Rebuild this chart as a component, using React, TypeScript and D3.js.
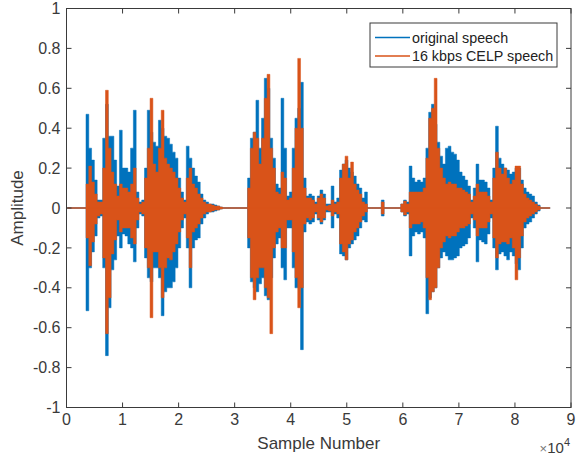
import React from "react";
import * as d3 from "d3";

// envelope of the two waveforms, one value per bin of samples
const binWidth = 497;
const signalLength = 86300;

const blueTop = [
  0, 0, 0, 0, 0, 0, 0, 0.47, 0.3, 0.24, 0.14, 0.04, 0.04, 0.35, 0.52, 0.36, 0.36, 0.24, 0.11, 0.39,
  0.2, 0.2, 0.18, 0.3, 0.49, 0.08, 0.03, 0.04, 0.2, 0.49, 0.38, 0.33, 0.31, 0.44, 0.4, 0.36, 0.35, 0.32, 0.28, 0.25,
  0.15, 0.08, 0.04, 0.31, 0.25, 0.2, 0.16, 0.13, 0.07, 0.04, 0.03, 0.02, 0.02, 0.015, 0.01, 0.005, 0, 0, 0, 0,
  0, 0, 0, 0, 0, 0.15, 0.35, 0.38, 0.54, 0.3, 0.45, 0.65, 0.6, 0.35, 0.25, 0.12, 0.1, 0.55, 0.3, 0.06,
  0.08, 0.3, 0.45, 0.5, 0.63, 0.15, 0.06, 0.07, 0.06, 0.03, 0.06, 0.09, 0.07, 0.02, 0.02, 0.11, 0.03, 0.05, 0.19, 0.22,
  0.24, 0.2, 0.18, 0.16, 0.12, 0.1, 0.05, 0.08, 0, 0, 0, 0, 0, 0.04, 0, 0, 0, 0, 0, 0,
  0.02, 0.04, 0.03, 0.21, 0.15, 0.13, 0.14, 0.13, 0.15, 0.3, 0.48, 0.52, 0.42, 0.33, 0.26, 0.22, 0.3, 0.31, 0.28, 0.27,
  0.24, 0.18, 0.16, 0.14, 0.11, 0.04, 0.1, 0.22, 0.14, 0.14, 0.13, 0.1, 0.04, 0.2, 0.41, 0.25, 0.22, 0.2, 0.19, 0.17,
  0.18, 0.2, 0.2, 0.14, 0.1, 0.08, 0.07, 0.06, 0.03, 0.015, 0, 0, 0, 0,
];
const blueBottom = [
  0, 0, 0, 0, 0, 0, 0, -0.515, -0.3, -0.22, -0.14, -0.05, -0.04, -0.3, -0.74, -0.5, -0.31, -0.26, -0.14, -0.2,
  -0.13, -0.14, -0.18, -0.2, -0.27, -0.1, -0.03, -0.04, -0.25, -0.35, -0.37, -0.3, -0.3, -0.35, -0.54, -0.42, -0.4, -0.4, -0.37, -0.3,
  -0.2, -0.1, -0.05, -0.2, -0.4, -0.2, -0.16, -0.15, -0.08, -0.05, -0.03, -0.02, -0.02, -0.015, -0.01, -0.005, 0, 0, 0, 0,
  0, 0, 0, 0, 0, -0.2, -0.37, -0.4, -0.42, -0.38, -0.35, -0.44, -0.46, -0.35, -0.25, -0.18, -0.15, -0.3, -0.36, -0.1,
  -0.1, -0.3, -0.4, -0.4, -0.71, -0.12, -0.07, -0.08, -0.07, -0.03, -0.06, -0.08, -0.06, -0.02, -0.02, -0.1, -0.03, -0.05, -0.23, -0.24,
  -0.26, -0.2, -0.18, -0.16, -0.14, -0.1, -0.06, -0.07, 0, 0, 0, 0, 0, -0.04, 0, 0, 0, 0, 0, 0,
  -0.02, -0.04, -0.03, -0.24, -0.14, -0.12, -0.13, -0.12, -0.15, -0.53, -0.45, -0.42, -0.4, -0.3, -0.25, -0.22, -0.24, -0.26, -0.26, -0.25,
  -0.24, -0.2, -0.19, -0.18, -0.15, -0.05, -0.1, -0.27, -0.16, -0.17, -0.18, -0.13, -0.05, -0.2, -0.31, -0.23, -0.22, -0.24, -0.26, -0.22,
  -0.24, -0.28, -0.31, -0.2, -0.1, -0.08, -0.07, -0.05, -0.03, -0.015, 0, 0, 0, 0,
];
const orangeTop = [
  0, 0, 0, 0, 0, 0, 0, 0.12, 0.21, 0.13, 0.07, 0.03, 0.03, 0.2, 0.59, 0.3, 0.18, 0.12, 0.06, 0.12,
  0.1, 0.1, 0.08, 0.12, 0.2, 0.05, 0.02, 0.03, 0.15, 0.3, 0.55, 0.22, 0.18, 0.3, 0.49, 0.25, 0.22, 0.2, 0.18, 0.15,
  0.1, 0.05, 0.03, 0.15, 0.2, 0.12, 0.1, 0.07, 0.05, 0.03, 0.02, 0.02, 0.015, 0.01, 0.01, 0.005, 0, 0, 0, 0,
  0, 0, 0, 0, 0, 0.1, 0.3, 0.38, 0.35, 0.22, 0.35, 0.55, 0.67, 0.3, 0.2, 0.08, 0.07, 0.18, 0.15, 0.04,
  0.05, 0.2, 0.4, 0.75, 0.4, 0.1, 0.05, 0.05, 0.04, 0.02, 0.05, 0.07, 0.05, 0.01, 0.015, 0.04, 0.02, 0.03, 0.15, 0.22,
  0.26, 0.15, 0.23, 0.12, 0.09, 0.07, 0.03, 0.02, 0, 0, 0, 0, 0, 0.03, 0, 0, 0, 0, 0, 0,
  0.02, 0.035, 0.02, 0.08, 0.08, 0.08, 0.08, 0.08, 0.1, 0.25, 0.45, 0.5, 0.65, 0.3, 0.2, 0.15, 0.12, 0.13, 0.12, 0.12,
  0.1, 0.1, 0.09, 0.08, 0.07, 0.03, 0.06, 0.12, 0.08, 0.08, 0.08, 0.06, 0.03, 0.15, 0.28, 0.2, 0.17, 0.2, 0.15, 0.12,
  0.14, 0.21, 0.21, 0.12, 0.07, 0.05, 0.04, 0.03, 0.02, 0.01, 0, 0, 0, 0,
];
const orangeBottom = [
  0, 0, 0, 0, 0, 0, 0, -0.15, -0.29, -0.17, -0.08, -0.04, -0.03, -0.25, -0.63, -0.45, -0.23, -0.16, -0.06, -0.12,
  -0.1, -0.1, -0.1, -0.15, -0.18, -0.06, -0.02, -0.03, -0.2, -0.3, -0.55, -0.22, -0.22, -0.3, -0.45, -0.3, -0.25, -0.26, -0.22, -0.18,
  -0.12, -0.06, -0.03, -0.15, -0.3, -0.12, -0.1, -0.08, -0.05, -0.03, -0.02, -0.02, -0.015, -0.01, -0.01, -0.005, 0, 0, 0, 0,
  0, 0, 0, 0, 0, -0.15, -0.35, -0.46, -0.35, -0.3, -0.3, -0.4, -0.45, -0.63, -0.2, -0.12, -0.1, -0.2, -0.2, -0.06,
  -0.06, -0.22, -0.35, -0.5, -0.4, -0.08, -0.05, -0.06, -0.05, -0.02, -0.05, -0.07, -0.05, -0.01, -0.015, -0.04, -0.02, -0.03, -0.18, -0.22,
  -0.26, -0.18, -0.16, -0.12, -0.1, -0.07, -0.04, -0.02, 0, 0, 0, 0, 0, -0.03, 0, 0, 0, 0, 0, 0,
  -0.02, -0.035, -0.02, -0.1, -0.08, -0.08, -0.08, -0.07, -0.1, -0.35, -0.46, -0.42, -0.4, -0.3, -0.2, -0.17, -0.14, -0.15, -0.14, -0.14,
  -0.12, -0.1, -0.1, -0.09, -0.08, -0.03, -0.06, -0.14, -0.1, -0.1, -0.1, -0.07, -0.03, -0.15, -0.25, -0.18, -0.17, -0.17, -0.18, -0.15,
  -0.2, -0.36, -0.25, -0.14, -0.07, -0.05, -0.04, -0.03, -0.02, -0.01, 0, 0, 0, 0,
];

const xTicks = [0, 1, 2, 3, 4, 5, 6, 7, 8, 9];
const yTicks = [-1, -0.8, -0.6, -0.4, -0.2, 0, 0.2, 0.4, 0.6, 0.8, 1];
const legendLabels = ["original speech", "16 kbps CELP speech"];

const BLUE = "#0072BD";
const ORANGE = "#D95319";
const AXIS = "#3a3a3a";
const FONT = "'Liberation Sans', Arial, sans-serif";

const width = 579;
const height = 458;
const left = 66.5, right = 571, top = 8.5, bottom = 407.5;

const x = d3.scaleLinear().domain([0, 90000]).range([left, right]);
const y = d3.scaleLinear().domain([-1, 1]).range([bottom, top]);

function envelope(tops: number[], bottoms: number[]) {
  return tops.map((t, i) => ({ n: (i + 0.5) * binWidth, t, b: bottoms[i] }));
}

const area = d3
  .area<{ n: number; t: number; b: number }>()
  .x(d => x(d.n))
  .y0(d => y(d.b))
  .y1(d => y(d.t))
  .curve(d3.curveStep);

export default function App() {
  const blue = envelope(blueTop, blueBottom);
  const orange = envelope(orangeTop, orangeBottom);
  const tickLen = 5;

  return (
    <svg
      width={width}
      height={height}
      style={{ position: "absolute", left: 0, top: 0, background: "#fff" }}
      fontFamily={FONT}
    >
      <rect width={width} height={height} fill="#fff" />

      <path d={area(blue) ?? ""} fill={BLUE} stroke={BLUE} strokeWidth={0.5} />
      <line x1={x(0)} x2={x(signalLength)} y1={y(0)} y2={y(0)} stroke={BLUE} strokeWidth={1} />
      <path d={area(orange) ?? ""} fill={ORANGE} stroke={ORANGE} strokeWidth={0.5} />
      <line x1={x(0)} x2={x(signalLength)} y1={y(0)} y2={y(0)} stroke={ORANGE} strokeWidth={1} />

      {/* box */}
      <rect x={left} y={top} width={right - left} height={bottom - top} fill="none" stroke={AXIS} strokeWidth={1} />

      {xTicks.map(t => (
        <g key={"x" + t}>
          <line x1={x(t * 1e4)} x2={x(t * 1e4)} y1={bottom} y2={bottom - tickLen} stroke={AXIS} />
          <line x1={x(t * 1e4)} x2={x(t * 1e4)} y1={top} y2={top + tickLen} stroke={AXIS} />
          <text x={x(t * 1e4)} y={bottom + 17.5} textAnchor="middle" fontSize={16} fill={AXIS}>
            {t}
          </text>
        </g>
      ))}

      {yTicks.map(t => (
        <g key={"y" + t}>
          <line x1={left} x2={left + tickLen} y1={y(t)} y2={y(t)} stroke={AXIS} />
          <line x1={right} x2={right - tickLen} y1={y(t)} y2={y(t)} stroke={AXIS} />
          <text x={left - 6} y={y(t)} dy="0.35em" textAnchor="end" fontSize={16} fill={AXIS}>
            {t === 0 ? "0" : String(+t.toFixed(1))}
          </text>
        </g>
      ))}

      <text x={(left + right) / 2} y={449} textAnchor="middle" fontSize={17} fill={AXIS}>
        Sample Number
      </text>
      <text
        transform={`translate(23,${(top + bottom) / 2}) rotate(-90)`}
        textAnchor="middle"
        fontSize={17}
        fill={AXIS}
      >
        Amplitude
      </text>

      <text x={right - 1} y={453} textAnchor="end" fontSize={15} fill={AXIS}>
        <tspan fill="#777" fontSize={13}>×</tspan>
        <tspan>10</tspan>
        <tspan dy={-7} fontSize={11}>4</tspan>
      </text>

      {/* legend */}
      <rect x={370} y={23} width={187} height={44} fill="#fff" stroke={AXIS} strokeWidth={1} />
      {legendLabels.map((label, i) => (
        <g key={label}>
          <line x1={375} x2={410} y1={37.5 + i * 18.5} y2={37.5 + i * 18.5} stroke={i === 0 ? BLUE : ORANGE} strokeWidth={1.5} />
          <text x={412} y={37.5 + i * 18.5} dy="0.35em" fontSize={14.3} fill="#222">
            {label}
          </text>
        </g>
      ))}
    </svg>
  );
}
